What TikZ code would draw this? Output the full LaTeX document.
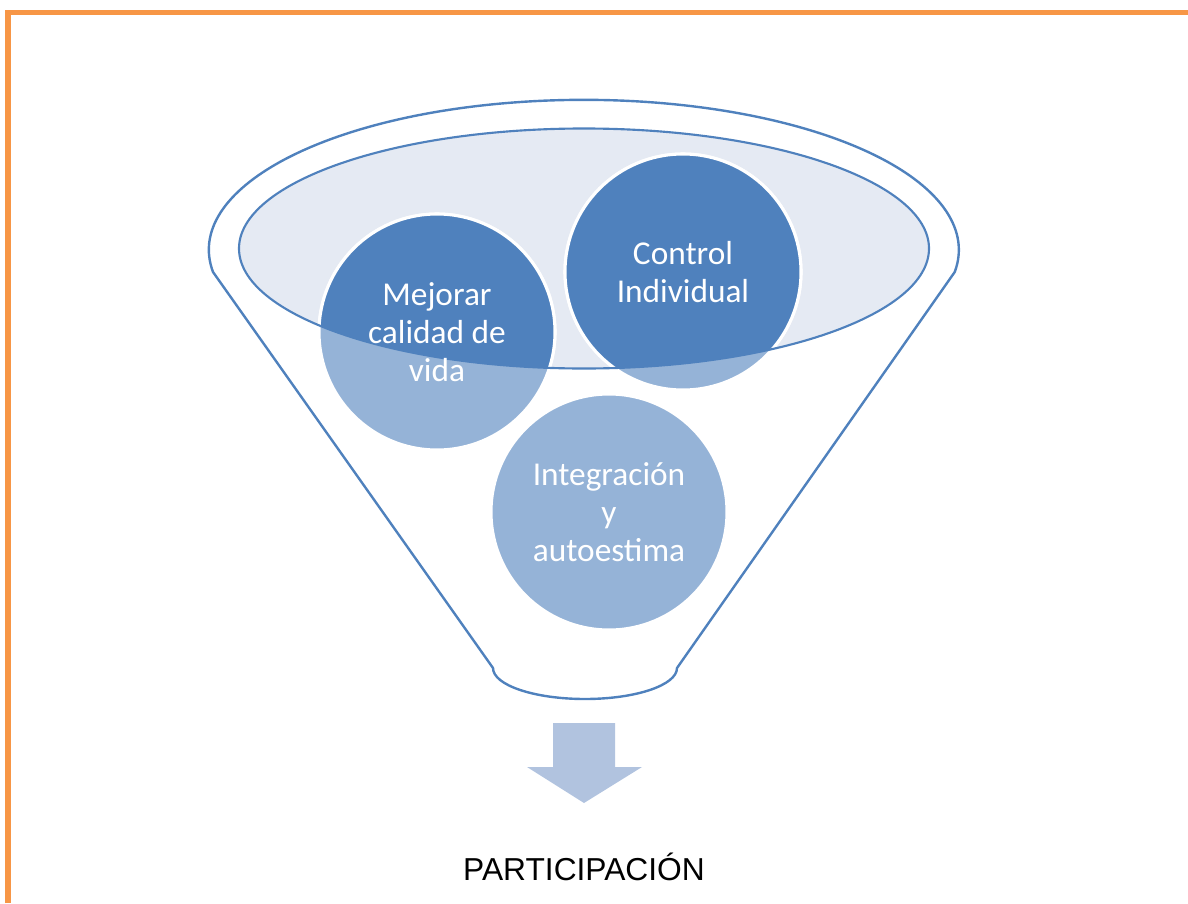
\documentclass[tikz,border=0pt]{standalone}
\usepackage{fontspec}
\setmainfont{Carlito}
\newfontfamily\arialf{Liberation Sans}
\definecolor{dkblue}{HTML}{4F81BD}
\definecolor{ltblue}{HTML}{95B3D7}
\definecolor{pale}{HTML}{E5EAF3}
\definecolor{arrowc}{HTML}{B1C3DF}
\definecolor{orng}{HTML}{F79646}
\tikzset{
  funnelline/.style={draw=dkblue, line width=1.8pt},
  bubbledisc/.style={draw=white, line width=2.3pt},
  bubble/.style={circle, minimum size=177pt, inner sep=0pt, text=white, align=center,
    font=\fontsize{25}{28.5}\selectfont},
  caption/.style={font=\arialf\fontsize{23.8}{28}\selectfont, text=black}
}
\begin{document}
\begin{tikzpicture}[x=0.75pt,y=-0.75pt]
\useasboundingbox (0,0) rectangle (1188,903);
% orange frame
\draw[orng, line width=4.1pt] (7.8,903) -- (7.8,12.5) -- (1188,12.5);
% centres
\coordinate (mc) at (437,332);
\coordinate (cc) at (683,272);
\coordinate (ic) at (609,512);
% inner ellipse fill
\fill[pale] (584,248.5) ellipse [x radius=345, y radius=120];
% outer funnel
\draw[funnelline, line join=round] (213,272) arc[start angle=171.5, end angle=368.5, x radius=375, y radius=150]
  -- (677,668) arc[start angle=0, end angle=180, x radius=92, y radius=31] -- cycle;
% light discs
\foreach \c in {mc,cc,ic} {
  \filldraw[bubbledisc, fill=ltblue] (\c) circle [radius=118];
}
% dark part inside the inner ellipse
\begin{scope}
  \clip (584,248.5) ellipse [x radius=345, y radius=120];
  \foreach \c in {mc,cc} {
    \filldraw[bubbledisc, fill=dkblue] (\c) circle [radius=118];
  }
\end{scope}
% inner ellipse outline
\draw[funnelline, line width=1.6pt] (584,248.5) ellipse [x radius=345, y radius=120];
% texts
\node[bubble] (mejorar) at (mc) {Mejorar\\calidad de\\vida};
\node[bubble] (control) at (cc) {Control\\Individual};
\node[bubble] (integ) at (ic) {Integración\\y\\autoestima};
% block arrow
\fill[arrowc] (553,723) -- (615,723) -- (615,767) -- (642,767) -- (584,803) -- (527,767) -- (553,767) -- cycle;
% caption
\node[caption, anchor=base] (part) at (584,880) {PARTICIPACIÓN};
\end{tikzpicture}
\end{document}
